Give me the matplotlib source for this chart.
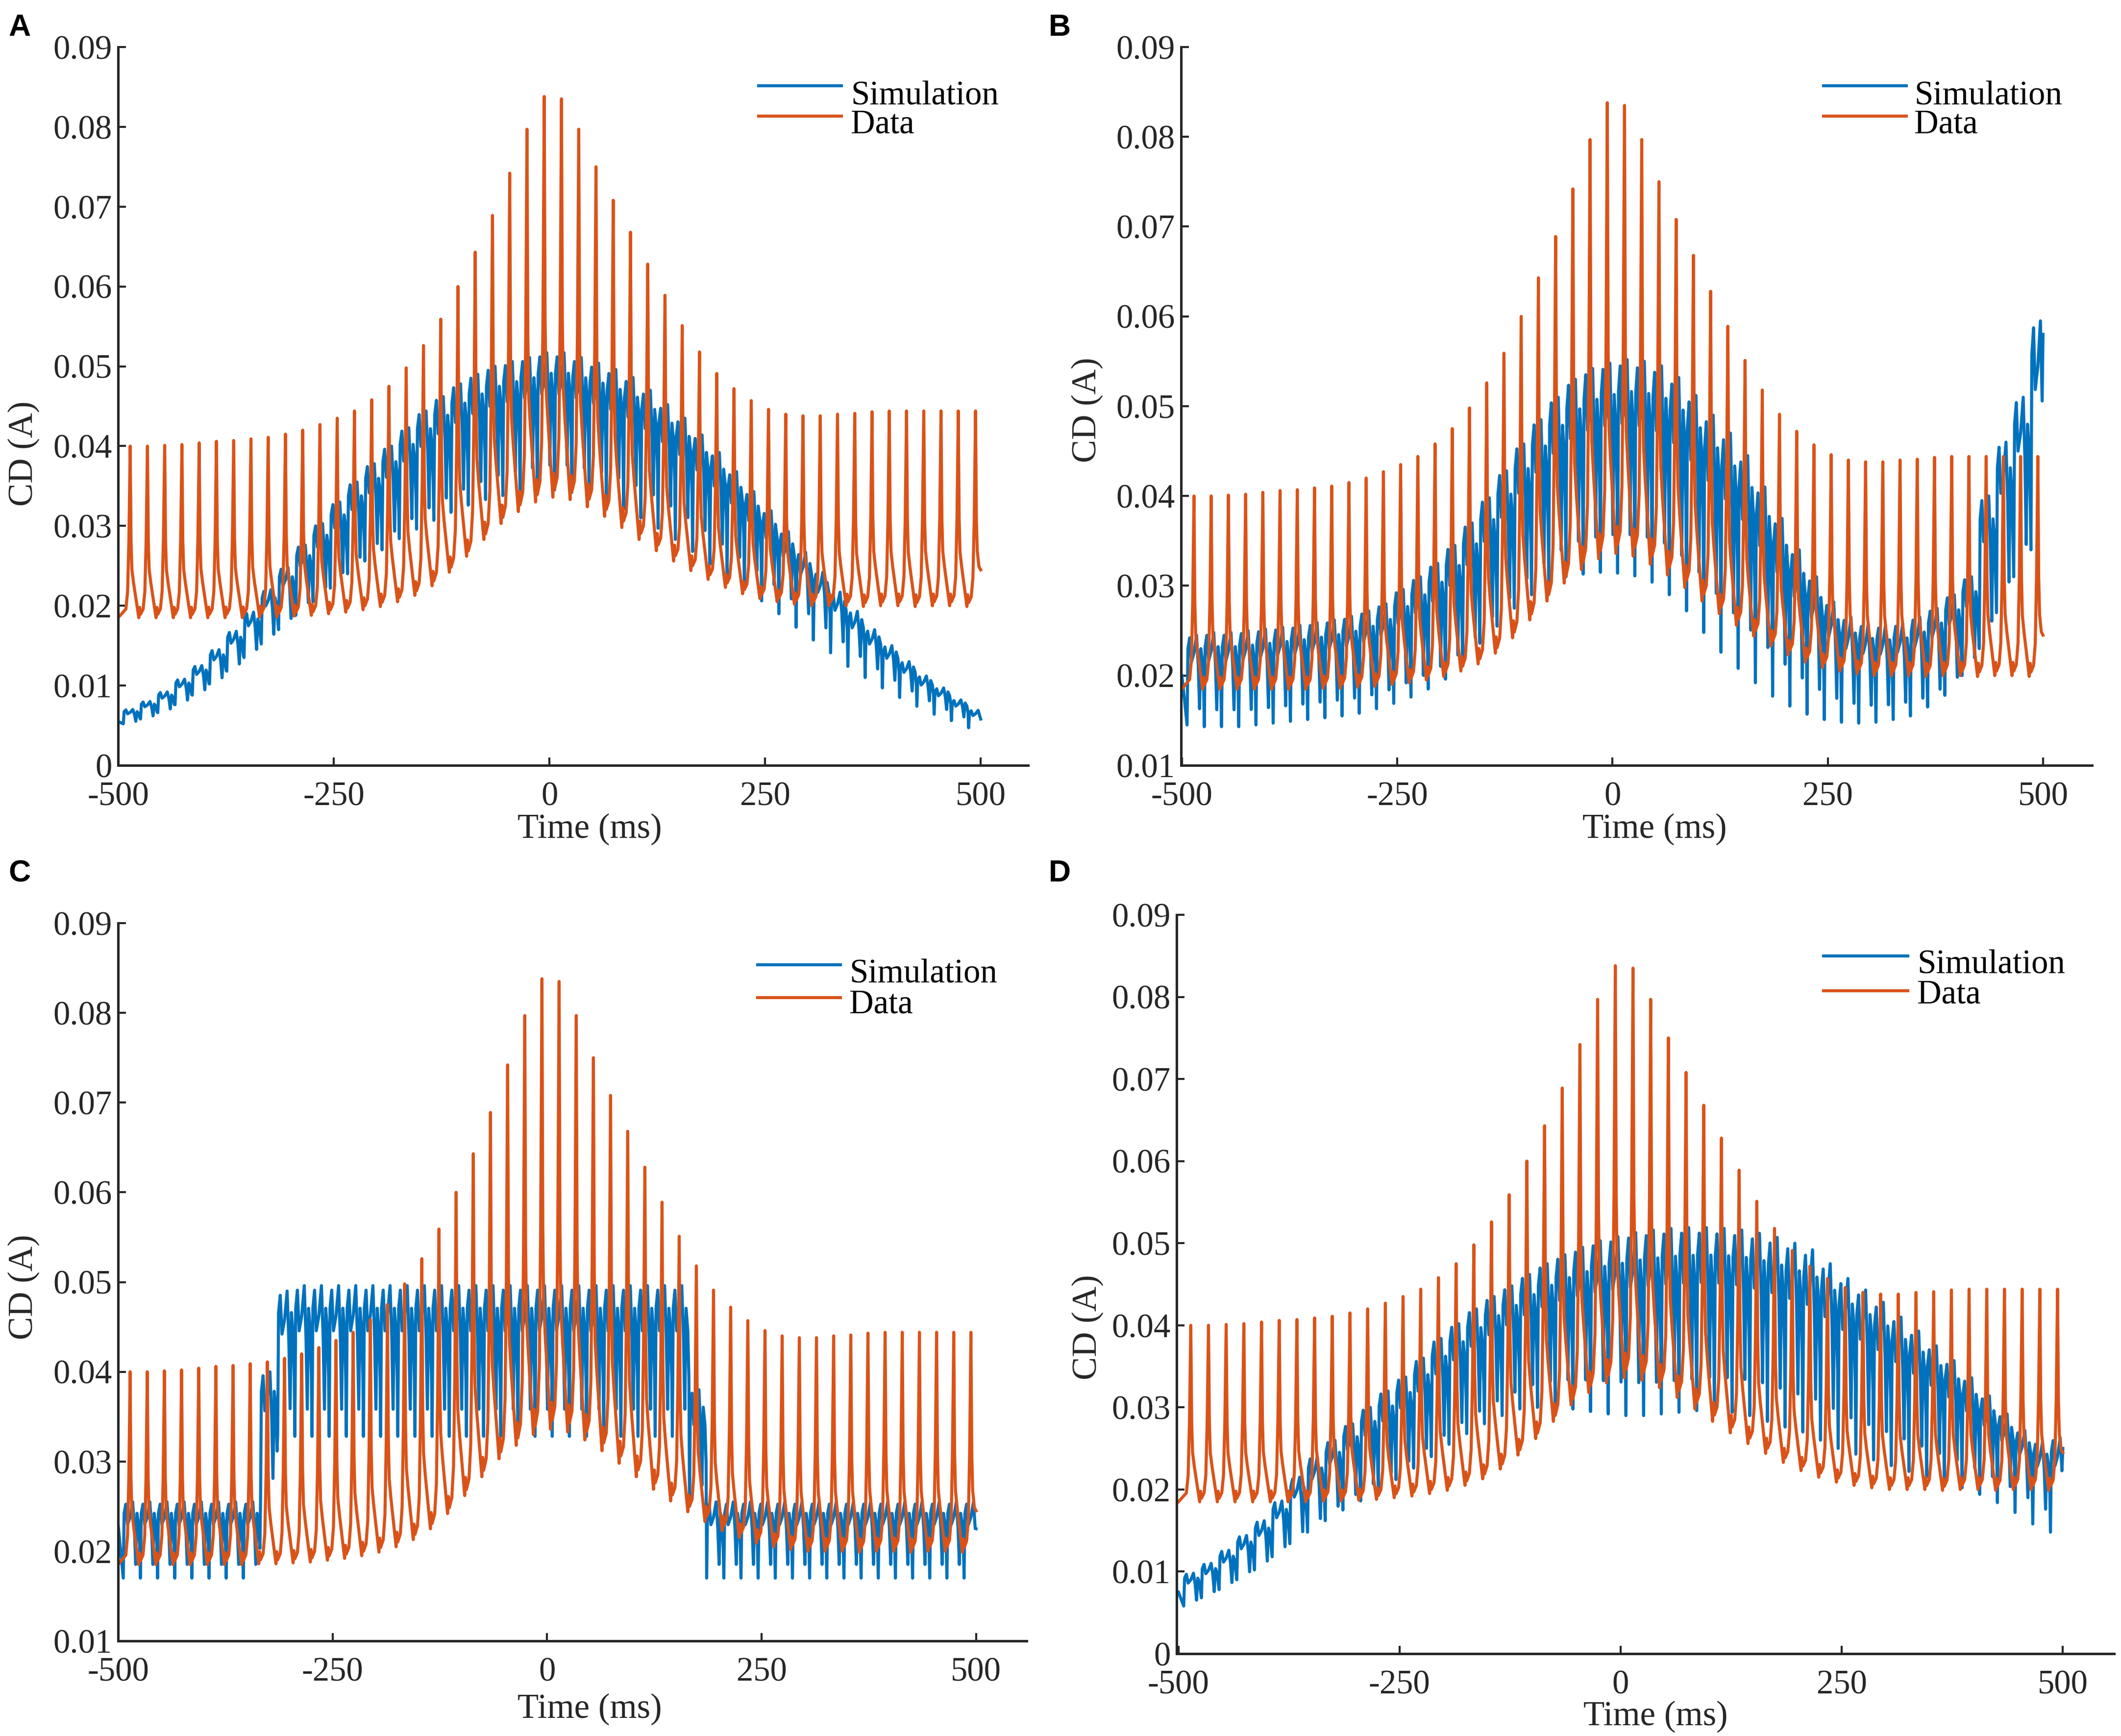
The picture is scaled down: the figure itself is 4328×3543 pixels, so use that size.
import numpy as np
import matplotlib.pyplot as plt
from matplotlib.lines import Line2D

# ---- recorded data (orange), the same trace in all four panels ----
# one value per spike: spikes start at -486 ms and repeat every 20 ms
data_first_spike = -486
period = 20
data_peak = [0.0400, 0.0400, 0.0401, 0.0402, 0.0404, 0.0406, 0.0407, 0.0409, 0.0411, 0.0415,
             0.0420, 0.0427, 0.0435, 0.0444, 0.0458, 0.0475, 0.0498, 0.0526, 0.0559, 0.0600,
             0.0643, 0.0689, 0.0742, 0.0797, 0.0838, 0.0835, 0.0797, 0.0750, 0.0708, 0.0668,
             0.0628, 0.0589, 0.0551, 0.0518, 0.0491, 0.0472, 0.0457, 0.0446, 0.0440, 0.0438,
             0.0438, 0.0440, 0.0441, 0.0443, 0.0444, 0.0444, 0.0444, 0.0444, 0.0444, 0.0444]
data_trough = [0.0185, 0.0185, 0.0185, 0.0185, 0.0185, 0.0185, 0.0185, 0.0186, 0.0186, 0.0187,
               0.0188, 0.0190, 0.0192, 0.0195, 0.0199, 0.0205, 0.0213, 0.0225, 0.0242, 0.0262,
               0.0283, 0.0303, 0.0318, 0.0330, 0.0336, 0.0333, 0.0324, 0.0312, 0.0298, 0.0283,
               0.0269, 0.0256, 0.0244, 0.0233, 0.0223, 0.0215, 0.0209, 0.0205, 0.0202, 0.0200,
               0.0200, 0.0200, 0.0199, 0.0200, 0.0200, 0.0199, 0.0200, 0.0200, 0.0199, 0.0200]
data_start = 0.0185
data_end = 0.0245

# ---- simulations (blue), one high / low value per 20 ms cycle, cycles start at -494 ms ----
sim_first_cycle = -494
simA_high = [0.0070, 0.0080, 0.0092, 0.0108, 0.0125, 0.0145, 0.0168, 0.0192, 0.0220, 0.0248,
             0.0276, 0.0303, 0.0330, 0.0355, 0.0378, 0.0400, 0.0423, 0.0444, 0.0462, 0.0478,
             0.0490, 0.0500, 0.0506, 0.0511, 0.0517, 0.0517, 0.0511, 0.0504, 0.0496, 0.0486,
             0.0470, 0.0452, 0.0435, 0.0414, 0.0392, 0.0368, 0.0343, 0.0319, 0.0293, 0.0267,
             0.0242, 0.0217, 0.0193, 0.0170, 0.0150, 0.0130, 0.0112, 0.0097, 0.0082, 0.0069]
simA_low = [0.0052, 0.0058, 0.0066, 0.0076, 0.0088, 0.0102, 0.0118, 0.0135, 0.0152, 0.0170,
            0.0188, 0.0205, 0.0222, 0.0240, 0.0256, 0.0270, 0.0284, 0.0296, 0.0307, 0.0317,
            0.0326, 0.0333, 0.0338, 0.0342, 0.0345, 0.0345, 0.0342, 0.0337, 0.0330, 0.0321,
            0.0310, 0.0297, 0.0283, 0.0268, 0.0252, 0.0237, 0.0222, 0.0206, 0.0190, 0.0173,
            0.0157, 0.0141, 0.0124, 0.0110, 0.0097, 0.0085, 0.0074, 0.0064, 0.0056, 0.0047]
simA_ends = (0.0055, 0.0058)

simB_high = [0.0245, 0.0248, 0.0248, 0.0250, 0.0252, 0.0254, 0.0256, 0.0259, 0.0262, 0.0266,
             0.0272, 0.0280, 0.0296, 0.0310, 0.0325, 0.0345, 0.0370, 0.0398, 0.0428, 0.0458,
             0.0485, 0.0510, 0.0530, 0.0542, 0.0548, 0.0552, 0.0550, 0.0545, 0.0532, 0.0512,
             0.0490, 0.0470, 0.0445, 0.0410, 0.0375, 0.0340, 0.0310, 0.0282, 0.0265, 0.0258,
             0.0256, 0.0258, 0.0265, 0.0275, 0.0290, 0.0310, 0.0400, 0.0460, 0.0510, 0.0595]
simB_low = [0.0145, 0.0143, 0.0143, 0.0143, 0.0145, 0.0147, 0.0149, 0.0151, 0.0153, 0.0155,
            0.0158, 0.0163, 0.0169, 0.0176, 0.0185, 0.0196, 0.0215, 0.0236, 0.0255, 0.0275,
            0.0290, 0.0302, 0.0310, 0.0313, 0.0315, 0.0314, 0.0311, 0.0304, 0.0290, 0.0272,
            0.0248, 0.0226, 0.0208, 0.0192, 0.0177, 0.0166, 0.0157, 0.0151, 0.0148, 0.0147,
            0.0148, 0.0151, 0.0155, 0.0165, 0.0178, 0.0200, 0.0230, 0.0270, 0.0310, 0.0340]
simB_ends = (0.0200, 0.0580)

simC_high = [0.0255, 0.0255, 0.0255, 0.0255, 0.0255, 0.0255, 0.0255, 0.0255, 0.0400, 0.0490,
             0.0496, 0.0496, 0.0496, 0.0496, 0.0496, 0.0496, 0.0496, 0.0496, 0.0496, 0.0496,
             0.0496, 0.0496, 0.0496, 0.0496, 0.0496, 0.0496, 0.0496, 0.0496, 0.0496, 0.0496,
             0.0496, 0.0496, 0.0496, 0.0380, 0.0255, 0.0255, 0.0255, 0.0255, 0.0255, 0.0255,
             0.0255, 0.0255, 0.0255, 0.0255, 0.0255, 0.0255, 0.0255, 0.0255, 0.0255, 0.0255]
simC_low = [0.0170, 0.0170, 0.0170, 0.0170, 0.0170, 0.0170, 0.0170, 0.0170, 0.0255, 0.0330,
            0.0328, 0.0328, 0.0328, 0.0328, 0.0328, 0.0328, 0.0328, 0.0328, 0.0328, 0.0328,
            0.0328, 0.0328, 0.0328, 0.0328, 0.0328, 0.0328, 0.0328, 0.0328, 0.0328, 0.0328,
            0.0328, 0.0328, 0.0328, 0.0250, 0.0170, 0.0170, 0.0170, 0.0170, 0.0170, 0.0170,
            0.0170, 0.0170, 0.0170, 0.0170, 0.0170, 0.0170, 0.0170, 0.0170, 0.0170, 0.0170]
simC_ends = (0.0230, 0.0225)

simD_high = [0.0098, 0.0110, 0.0126, 0.0144, 0.0162, 0.0186, 0.0215, 0.0240, 0.0260, 0.0280,
             0.0300, 0.0320, 0.0337, 0.0360, 0.0384, 0.0402, 0.0420, 0.0435, 0.0448, 0.0462,
             0.0475, 0.0486, 0.0495, 0.0503, 0.0508, 0.0513, 0.0516, 0.0518, 0.0519, 0.0519,
             0.0518, 0.0516, 0.0512, 0.0507, 0.0500, 0.0492, 0.0475, 0.0457, 0.0443, 0.0428,
             0.0410, 0.0393, 0.0375, 0.0357, 0.0336, 0.0314, 0.0292, 0.0272, 0.0258, 0.0263]
simD_low = [0.0058, 0.0068, 0.0078, 0.0090, 0.0102, 0.0118, 0.0134, 0.0148, 0.0162, 0.0175,
            0.0186, 0.0198, 0.0212, 0.0226, 0.0240, 0.0255, 0.0268, 0.0280, 0.0290, 0.0298,
            0.0300, 0.0300, 0.0298, 0.0295, 0.0292, 0.0290, 0.0290, 0.0292, 0.0294, 0.0296,
            0.0296, 0.0294, 0.0290, 0.0283, 0.0276, 0.0270, 0.0260, 0.0250, 0.0243, 0.0236,
            0.0229, 0.0222, 0.0215, 0.0209, 0.0202, 0.0194, 0.0184, 0.0172, 0.0158, 0.0148]
simD_ends = (0.0075, 0.0250)

# shape of one cycle: (ms offset, fraction of swing)
data_rise = [(-5, 0.05), (-3, 0.15), (-1.5, 0.45)]
data_fall = [(1, 0.45), (2, 0.28), (4, 0.20), (7, 0.10), (10, 0.0), (11, 0.06), (12, 0.02)]
sim_cycle = [(1, 0.85), (3, 0.97), (5, 0.70), (8, 0.80), (11, 1.0),
             (13, 0.65), (14.5, 0.18), (16, 0.85), (18, 0.70), (19.3, 0.39)]

BLUE = '#0072BD'
ORANGE = '#D95319'
INK = '#262626'
SERIF = 'Liberation Serif'
LW = 1.5


def data_trace():
    ts, vs = [-500], [data_start]
    for k, (p, b) in enumerate(zip(data_peak, data_trough)):
        tk = data_first_spike + k * period
        base = data_trough[k - 1] if k > 0 else data_start
        for dt, f in data_rise:
            ts.append(tk + dt)
            vs.append(base + f * (p - base))
        ts.append(tk)
        vs.append(p)
        for dt, f in data_fall:
            ts.append(tk + dt)
            vs.append(b + f * (p - b))
    ts, vs = np.array(ts), np.array(vs)
    keep = ts < 500
    return np.append(ts[keep], 500), np.append(vs[keep], data_end)


def sim_trace(high, low, ends):
    ts, vs = [-500], [ends[0]]
    for m, (h, l) in enumerate(zip(high, low)):
        t0 = sim_first_cycle + m * period
        ts.append(t0)
        vs.append(l)
        for dt, f in sim_cycle:
            ts.append(t0 + dt)
            vs.append(l + f * (h - l))
    ts, vs = np.array(ts), np.array(vs)
    keep = ts < 500
    return np.append(ts[keep], 500), np.append(vs[keep], ends[1])


W, H = 4328, 3543
fig = plt.figure(figsize=(W / 300, H / 300), dpi=300)

panels = [
    # letter, axes rect (px), ylim, xlim, sim data, ylabel (x, y), xlabel (x, y),
    # legend (x0, x1, text x, line1 y, line2 y, base1 y, base2 y), letter position (px)
    ('A', (241, 96, 2098, 1562), (0, 0.09), (-500, 555), (simA_high, simA_low, simA_ends),
     (-0.104, 0.434), (0.518, -0.089), (0.704, 0.795, 0.805, 0.946, 0.904, 0.920, 0.880), (17, 73)),
    ('B', (2410, 96, 4269, 1562), (0.01, 0.09), (-501, 557), (simB_high, simB_low, simB_ends),
     (-0.103, 0.495), (0.520, -0.089), (0.705, 0.796, 0.805, 0.946, 0.904, 0.920, 0.880), (2140, 73)),
    ('C', (241, 1884, 2095, 3349), (0.01, 0.09), (-500, 559), (simC_high, simC_low, simC_ends),
     (-0.104, 0.493), (0.519, -0.095), (0.704, 0.795, 0.805, 0.942, 0.896, 0.917, 0.875), (17, 1799)),
    ('D', (2401, 1867, 4314, 3375), (0, 0.09), (-502, 558), (simD_high, simD_low, simD_ends),
     (-0.095, 0.442), (0.511, -0.085), (0.690, 0.780, 0.790, 0.944, 0.897, 0.921, 0.880), (2140, 1799)),
]

dt_x, dt_y = data_trace()

for letter, (x0, y0, x1, y1), ylim, xlim, sim, ylab, xlab, leg, lpos in panels:
    ax = fig.add_axes([x0 / W, 1 - y1 / H, (x1 - x0) / W, (y1 - y0) / H])
    st_x, st_y = sim_trace(*sim)
    ax.plot(st_x, st_y, color=BLUE, lw=LW)
    ax.plot(dt_x, dt_y, color=ORANGE, lw=LW)

    ax.set_xlim(*xlim)
    ax.set_ylim(*ylim)
    ax.spines['top'].set_visible(False)
    ax.spines['right'].set_visible(False)
    for s in ('left', 'bottom'):
        ax.spines[s].set_linewidth(1.2)
        ax.spines[s].set_color(INK)

    xt = [-500, -250, 0, 250, 500]
    ax.set_xticks(xt)
    ax.set_xticklabels([str(v) for v in xt])
    yt = np.arange(round(ylim[0] * 100), 10) / 100
    ax.set_yticks(yt)
    ax.set_yticklabels(['0' if v == 0 else f'{v:.2f}' for v in yt])
    ax.tick_params(direction='in', length=3.8, width=1.0, color=INK, labelcolor=INK,
                   labelsize=16.5)
    ax.tick_params(axis='x', pad=8)
    ax.tick_params(axis='y', pad=3)
    for lab in ax.get_xticklabels() + ax.get_yticklabels():
        lab.set_fontfamily(SERIF)

    ax.set_xlabel('Time (ms)', fontsize=17, family=SERIF, color=INK, va='center')
    ax.xaxis.set_label_coords(*xlab)
    ax.set_ylabel('CD (A)', fontsize=17, family=SERIF, color=INK, va='center')
    ax.yaxis.set_label_coords(*ylab)

    # legend, drawn in axes coordinates like the MATLAB one
    lx0, lx1, ltx, ly1, ly2, lb1, lb2 = leg
    ax.add_line(Line2D([lx0, lx1], [ly1, ly1], color=BLUE, lw=LW, transform=ax.transAxes))
    ax.add_line(Line2D([lx0, lx1], [ly2, ly2], color=ORANGE, lw=LW, transform=ax.transAxes))
    ax.text(ltx, lb1, 'Simulation', transform=ax.transAxes, fontsize=16.5, family=SERIF,
            color='black', va='baseline')
    ax.text(ltx, lb2, 'Data', transform=ax.transAxes, fontsize=16.5, family=SERIF,
            color='black', va='baseline')

    fig.text(lpos[0] / W, 1 - lpos[1] / H, letter, fontsize=15, fontweight='bold',
             family='Liberation Sans', va='baseline', ha='left')

fig.savefig('out.png', dpi=300)
plt.close(fig)
